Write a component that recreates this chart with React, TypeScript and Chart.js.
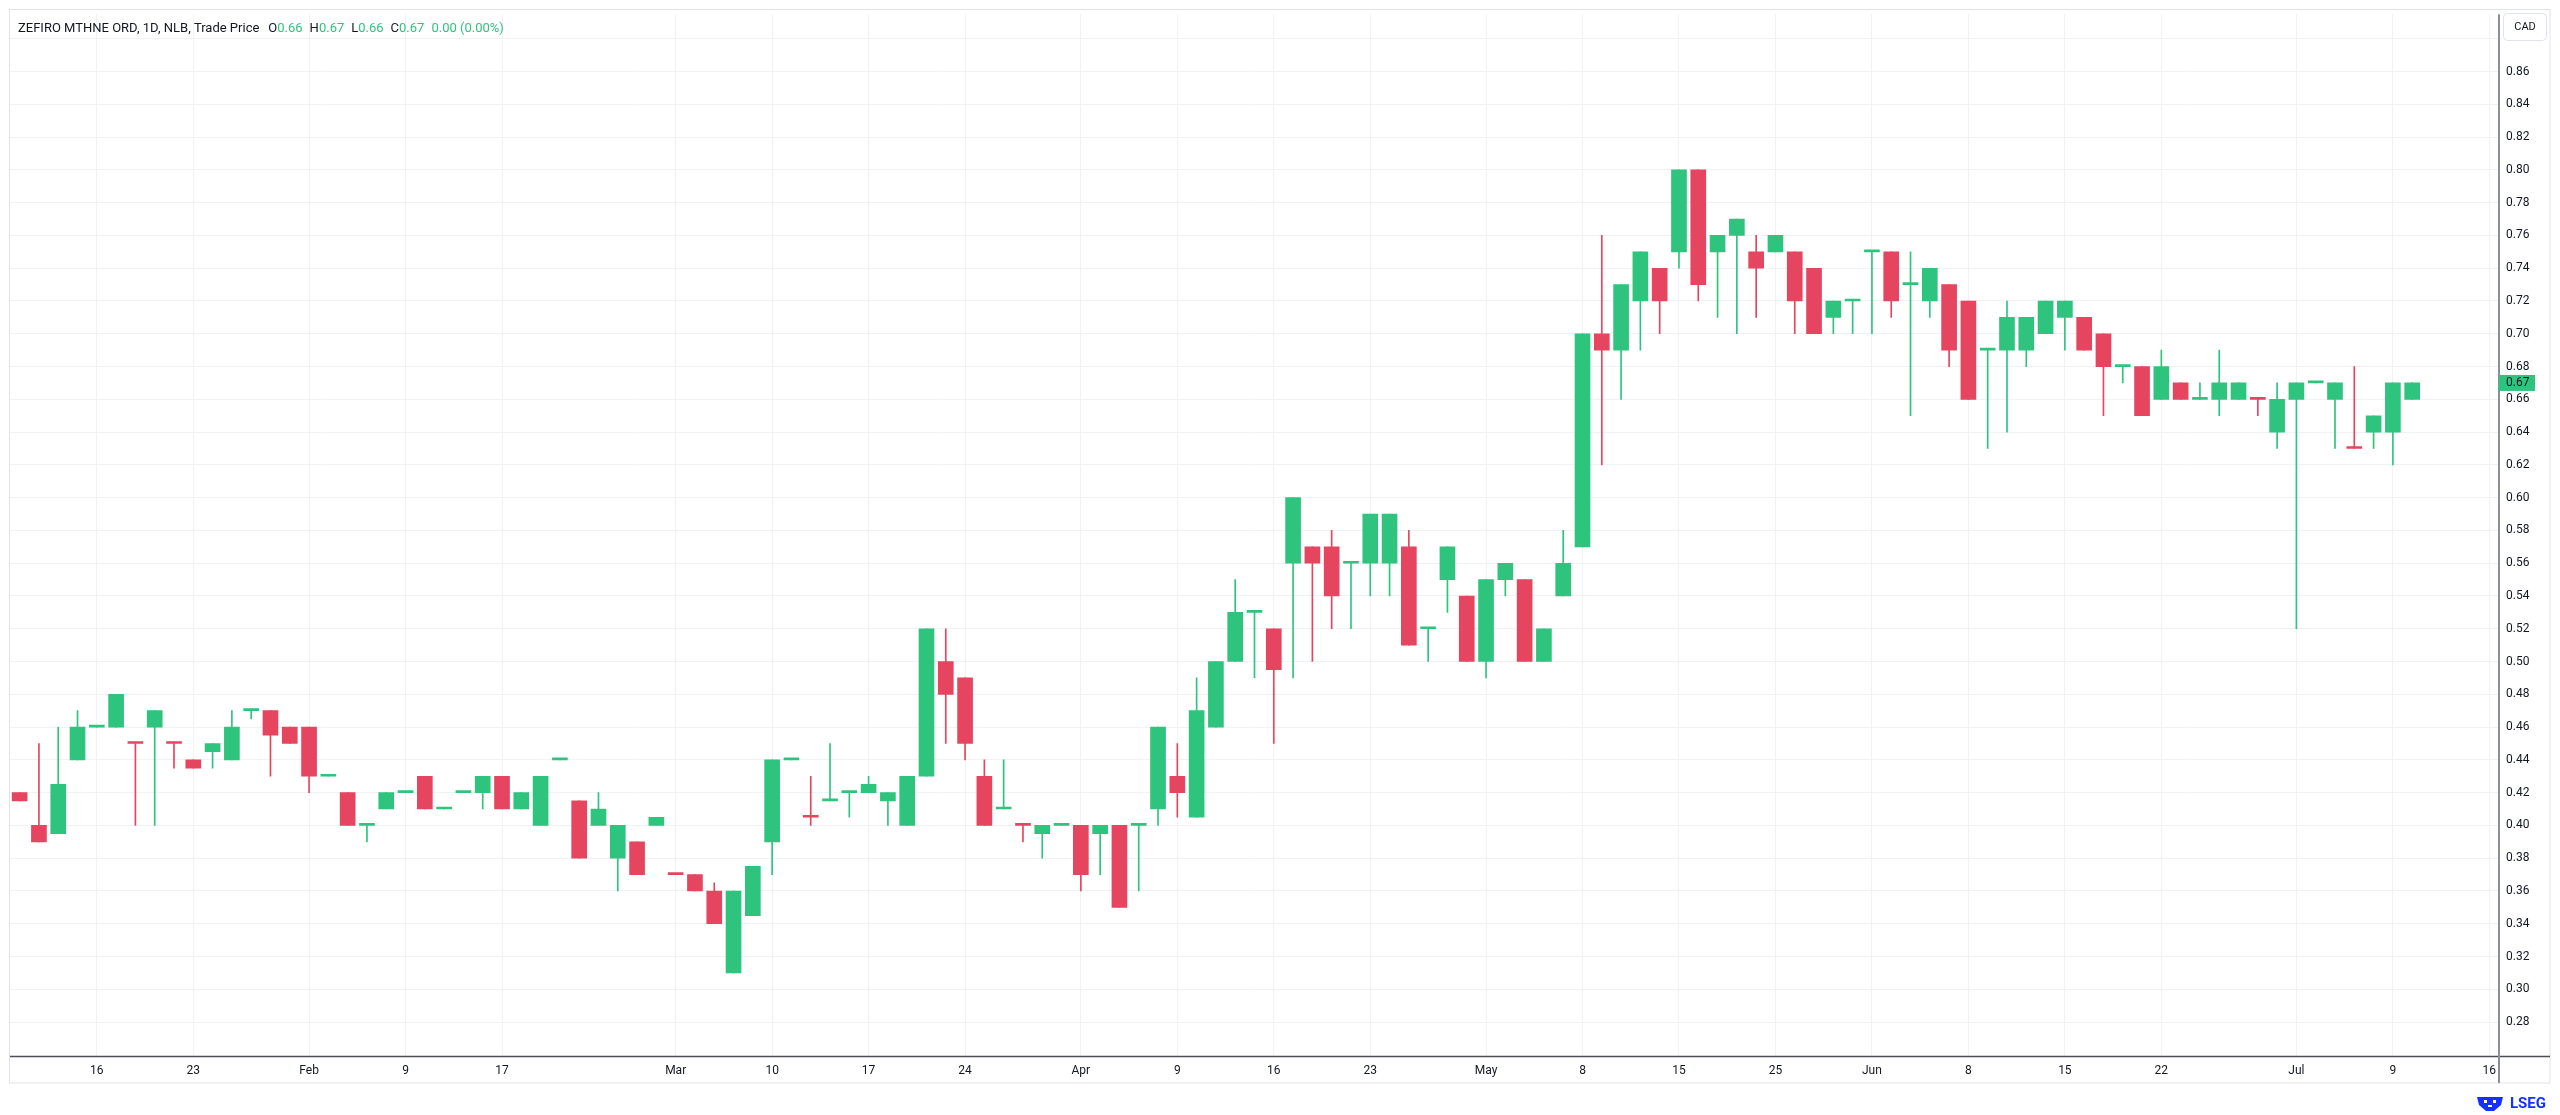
import { useEffect, useRef } from 'react';
import { Chart, registerables } from 'chart.js';

Chart.register(...registerables);

// daily sessions, oldest first
const open = [
  0.42, 0.40, 0.395, 0.44, 0.46, 0.46, 0.45, 0.46, 0.45, 0.44,
  0.445, 0.44, 0.47, 0.47, 0.46, 0.46, 0.43, 0.42, 0.40, 0.41,
  0.42, 0.43, 0.41, 0.42, 0.42, 0.43, 0.41, 0.40, 0.44, 0.415,
  0.40, 0.38, 0.39, 0.40, 0.37, 0.37, 0.36, 0.31, 0.345, 0.39,
  0.44, 0.405, 0.415, 0.42, 0.42, 0.415, 0.40, 0.43, 0.50, 0.49,
  0.43, 0.41, 0.40, 0.395, 0.40, 0.40, 0.395, 0.40, 0.40, 0.41,
  0.43, 0.405, 0.46, 0.50, 0.53, 0.52, 0.56, 0.57, 0.57, 0.56,
  0.56, 0.56, 0.57, 0.52, 0.55, 0.54, 0.50, 0.55, 0.55, 0.50,
  0.54, 0.57, 0.70, 0.69, 0.72, 0.74, 0.75, 0.80, 0.75, 0.76,
  0.75, 0.75, 0.75, 0.74, 0.71, 0.72, 0.75, 0.75, 0.73, 0.72,
  0.73, 0.72, 0.69, 0.69, 0.69, 0.70, 0.71, 0.71, 0.70, 0.68,
  0.68, 0.66, 0.67, 0.66, 0.66, 0.66, 0.66, 0.64, 0.66, 0.67,
  0.66, 0.63, 0.64, 0.64, 0.66,
];
const high = [
  0.42, 0.45, 0.46, 0.47, 0.46, 0.48, 0.45, 0.47, 0.45, 0.44,
  0.45, 0.47, 0.47, 0.47, 0.46, 0.46, 0.43, 0.42, 0.40, 0.42,
  0.42, 0.43, 0.41, 0.42, 0.43, 0.43, 0.42, 0.43, 0.44, 0.415,
  0.42, 0.40, 0.39, 0.405, 0.37, 0.37, 0.365, 0.36, 0.375, 0.44,
  0.44, 0.43, 0.45, 0.42, 0.43, 0.42, 0.43, 0.52, 0.52, 0.49,
  0.44, 0.44, 0.40, 0.40, 0.40, 0.40, 0.40, 0.40, 0.40, 0.46,
  0.45, 0.49, 0.50, 0.55, 0.53, 0.52, 0.60, 0.57, 0.58, 0.56,
  0.59, 0.59, 0.58, 0.52, 0.57, 0.54, 0.55, 0.56, 0.55, 0.52,
  0.58, 0.70, 0.76, 0.73, 0.75, 0.74, 0.80, 0.80, 0.76, 0.77,
  0.76, 0.76, 0.75, 0.74, 0.72, 0.72, 0.75, 0.75, 0.75, 0.74,
  0.73, 0.72, 0.69, 0.72, 0.71, 0.72, 0.72, 0.71, 0.70, 0.68,
  0.68, 0.69, 0.67, 0.67, 0.69, 0.67, 0.66, 0.67, 0.67, 0.67,
  0.67, 0.68, 0.65, 0.67, 0.67,
];
const low = [
  0.415, 0.39, 0.395, 0.44, 0.46, 0.46, 0.40, 0.40, 0.435, 0.435,
  0.435, 0.44, 0.465, 0.43, 0.45, 0.42, 0.43, 0.40, 0.39, 0.41,
  0.42, 0.41, 0.41, 0.42, 0.41, 0.41, 0.41, 0.40, 0.44, 0.38,
  0.40, 0.36, 0.37, 0.40, 0.37, 0.36, 0.34, 0.31, 0.345, 0.37,
  0.44, 0.40, 0.415, 0.405, 0.42, 0.40, 0.40, 0.43, 0.45, 0.44,
  0.40, 0.41, 0.39, 0.38, 0.40, 0.36, 0.37, 0.35, 0.36, 0.40,
  0.405, 0.405, 0.46, 0.50, 0.49, 0.45, 0.49, 0.50, 0.52, 0.52,
  0.54, 0.54, 0.51, 0.50, 0.53, 0.50, 0.49, 0.54, 0.50, 0.50,
  0.54, 0.57, 0.62, 0.66, 0.69, 0.70, 0.74, 0.72, 0.71, 0.70,
  0.71, 0.75, 0.70, 0.70, 0.70, 0.70, 0.70, 0.71, 0.65, 0.71,
  0.68, 0.66, 0.63, 0.64, 0.68, 0.70, 0.69, 0.69, 0.65, 0.67,
  0.65, 0.66, 0.66, 0.66, 0.65, 0.66, 0.65, 0.63, 0.52, 0.67,
  0.63, 0.63, 0.63, 0.62, 0.66,
];
const close = [
  0.415, 0.39, 0.425, 0.46, 0.46, 0.48, 0.45, 0.47, 0.45, 0.435,
  0.45, 0.46, 0.47, 0.455, 0.45, 0.43, 0.43, 0.40, 0.40, 0.42,
  0.42, 0.41, 0.41, 0.42, 0.43, 0.41, 0.42, 0.43, 0.44, 0.38,
  0.41, 0.40, 0.37, 0.405, 0.37, 0.36, 0.34, 0.36, 0.375, 0.44,
  0.44, 0.405, 0.415, 0.42, 0.425, 0.42, 0.43, 0.52, 0.48, 0.45,
  0.40, 0.41, 0.40, 0.40, 0.40, 0.37, 0.40, 0.35, 0.40, 0.46,
  0.42, 0.47, 0.50, 0.53, 0.53, 0.495, 0.60, 0.56, 0.54, 0.56,
  0.59, 0.59, 0.51, 0.52, 0.57, 0.50, 0.55, 0.56, 0.50, 0.52,
  0.56, 0.70, 0.69, 0.73, 0.75, 0.72, 0.80, 0.73, 0.76, 0.77,
  0.74, 0.76, 0.72, 0.70, 0.72, 0.72, 0.75, 0.72, 0.73, 0.74,
  0.69, 0.66, 0.69, 0.71, 0.71, 0.72, 0.72, 0.69, 0.68, 0.68,
  0.65, 0.68, 0.66, 0.66, 0.67, 0.67, 0.66, 0.66, 0.67, 0.67,
  0.67, 0.63, 0.65, 0.67, 0.67,
];

// x axis: session index of each date label (4 empty sessions after the last bar)
const emptySessions = 4;
const tickPos = [4, 9, 15, 20, 25, 34, 39, 44, 49, 55, 60, 65, 70, 76, 81, 86, 91, 96, 101, 106, 111, 118, 123, 128];
const tickText = ['16', '23', 'Feb', '9', '17', 'Mar', '10', '17', '24', 'Apr', '9', '16', '23', 'May', '8', '15', '25', 'Jun', '8', '15', '22', 'Jul', '9', '16'];
const priceTicks = [
  0.28, 0.30, 0.32, 0.34, 0.36, 0.38, 0.40, 0.42, 0.44, 0.46, 0.48, 0.50, 0.52, 0.54, 0.56,
  0.58, 0.60, 0.62, 0.64, 0.66, 0.68, 0.70, 0.72, 0.74, 0.76, 0.78, 0.80, 0.82, 0.84, 0.86, 0.88,
];

const UP = '#2ec47e';
const DOWN = '#e5455f';
const TEXT = '#131722';
const GRID = '#f1f2f4';
const FRAME = '#e0e3eb';
const FONT = 'Roboto';

const categories = [...close.map((_, i) => String(i)), ...Array.from({ length: emptySessions }, (_, i) => 'e' + i)];

const candleColor = close.map((c, i) => {
  if (c > open[i]) return UP;
  if (c < open[i]) return DOWN;
  return i > 0 && c < close[i - 1] ? DOWN : UP;
});

const last = close.length - 1;
const change = close[last] - close[last - 1];

const overlay = {
  id: 'overlay',
  beforeDraw(chart: Chart) {
    const { ctx, width, height } = chart;
    ctx.save();
    ctx.fillStyle = '#ffffff';
    ctx.fillRect(0, 0, width, height);
    ctx.restore();
  },
  afterDraw(chart: Chart) {
    const { ctx, chartArea } = chart;
    const y = chart.scales.y;
    ctx.save();

    // frame
    ctx.strokeStyle = FRAME;
    ctx.lineWidth = 1;
    ctx.strokeRect(9.5, 9.5, 2550 - 9.5, 1083 - 9.5);

    // axis lines
    ctx.strokeStyle = '#4b4e57';
    ctx.lineWidth = 1.5;
    ctx.beginPath();
    ctx.moveTo(chartArea.left, chartArea.bottom + 0.5);
    ctx.lineTo(2550, chartArea.bottom + 0.5);
    ctx.stroke();
    ctx.strokeStyle = '#8c8f98';
    ctx.lineWidth = 2;
    ctx.beginPath();
    ctx.moveTo(chartArea.right, chartArea.top);
    ctx.lineTo(chartArea.right, 1083);
    ctx.stroke();

    // last price label
    const py = y.getPixelForValue(close[last]);
    ctx.fillStyle = candleColor[last];
    ctx.fillRect(chartArea.right, py - 8, 36, 16);
    ctx.fillStyle = TEXT;
    ctx.font = `12px ${FONT}`;
    ctx.textBaseline = 'middle';
    ctx.textAlign = 'left';
    ctx.fillText(close[last].toFixed(2), chartArea.right + 7, py + 0.5);

    // currency box
    ctx.fillStyle = '#ffffff';
    ctx.strokeStyle = FRAME;
    ctx.lineWidth = 1;
    ctx.beginPath();
    ctx.roundRect(2503.5, 13.5, 43, 27, 4);
    ctx.fill();
    ctx.stroke();
    ctx.fillStyle = TEXT;
    ctx.font = `11px ${FONT}`;
    ctx.textAlign = 'center';
    ctx.fillText('CAD', 2525, 27.5);

    // legend line
    ctx.textAlign = 'left';
    ctx.font = `13px ${FONT}`;
    const parts: [string, string, number][] = [
      ['ZEFIRO MTHNE ORD, 1D, NLB, Trade Price', TEXT, 9],
      ['O', TEXT, 0], [open[last].toFixed(2), UP, 7],
      ['H', TEXT, 0], [high[last].toFixed(2), UP, 7],
      ['L', TEXT, 0], [low[last].toFixed(2), UP, 7],
      ['C', TEXT, 0], [close[last].toFixed(2), UP, 7],
      [`${change.toFixed(2)} (${((change / close[last - 1]) * 100).toFixed(2)}%)`, UP, 0],
    ];
    let tx = 18;
    for (const [s, col, gap] of parts) {
      ctx.fillStyle = col;
      ctx.fillText(s, tx, 29);
      tx += ctx.measureText(s).width + gap;
    }

    // logo
    ctx.fillStyle = '#1432ff';
    ctx.beginPath();
    ctx.moveTo(2477, 1097);
    ctx.lineTo(2503, 1097);
    ctx.lineTo(2501, 1105);
    ctx.lineTo(2494, 1111);
    ctx.lineTo(2486, 1111);
    ctx.lineTo(2479, 1105);
    ctx.closePath();
    ctx.fill();
    ctx.fillStyle = '#ffffff';
    ctx.fillRect(2484, 1100, 3, 3);
    ctx.fillRect(2493, 1100, 3, 3);
    ctx.fillRect(2488, 1105, 4, 2);
    ctx.fillStyle = '#1432ff';
    ctx.font = `bold 15px ${FONT}`;
    ctx.fillText('LSEG', 2510, 1104);
    ctx.restore();
  },
};

export default function App() {
  const chartRef = useRef<HTMLCanvasElement | null>(null);

  useEffect(() => {
    document.body.style.margin = '0';
    let chart: Chart | null = null;
    if (chartRef.current) {
      chart = new Chart(chartRef.current, {
        type: 'bar',
        data: {
          labels: categories,
          datasets: [
            {
              label: 'body',
              data: open.map((o, i) => [o, close[i]]) as any,
              backgroundColor: candleColor,
              barThickness: 15,
              minBarLength: 2,
              grouped: false,
              borderWidth: 0,
              order: 0,
            },
            {
              label: 'wick',
              data: low.map((l, i) => [l, high[i]]) as any,
              backgroundColor: candleColor,
              barThickness: 1,
              grouped: false,
              borderWidth: 0,
              order: 1,
            },
          ],
        },
        options: {
          responsive: false,
          animation: false,
          events: [],
          layout: { padding: { top: 10, left: 10, right: 0, bottom: 32 } },
          plugins: {
            legend: { display: false },
            tooltip: { enabled: false },
          },
          scales: {
            x: {
              type: 'category',
              offset: true,
              grid: { offset: false, color: GRID, drawTicks: false },
              border: { display: false },
              afterBuildTicks: (axis: any) => {
                axis.ticks = tickPos.map((v) => ({ value: v }));
              },
              afterFit: (scale: any) => {
                scale.height = 27;
              },
              ticks: {
                autoSkip: false,
                maxRotation: 0,
                padding: 8,
                color: TEXT,
                font: { family: FONT, size: 12 },
                callback: (v: any) => tickText[tickPos.indexOf(Number(v))] ?? '',
              },
            },
            y: {
              position: 'right',
              min: 0.2593,
              max: 0.895,
              grid: { color: GRID, drawTicks: false },
              border: { display: false },
              afterBuildTicks: (axis: any) => {
                axis.ticks = priceTicks.map((v) => ({ value: v }));
              },
              afterFit: (scale: any) => {
                scale.width = 61;
              },
              ticks: {
                padding: 7,
                color: TEXT,
                font: { family: FONT, size: 12 },
                callback: (v: any) => (Number(v) > 0.87 ? '' : Number(v).toFixed(2)),
              },
            },
          },
        },
        plugins: [overlay],
      });
    }
    return () => {
      if (chart) chart.destroy();
    };
  }, []);

  return (
    <div style={{ position: 'relative', width: 2560, height: 1115 }}>
      <canvas ref={chartRef} width={2560} height={1115} style={{ display: 'block', width: 2560, height: 1115 }}></canvas>
    </div>
  );
}
